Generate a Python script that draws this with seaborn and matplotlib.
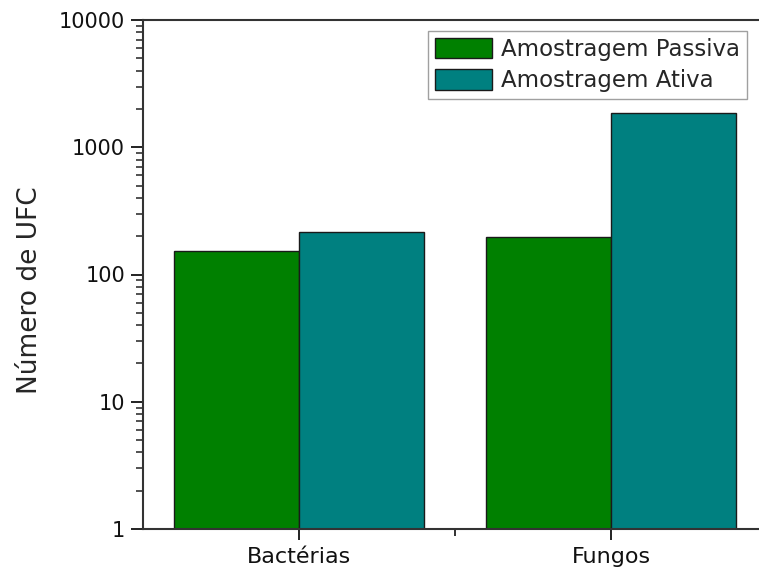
import pandas as pd
import seaborn as sns
import matplotlib.pyplot as plt
from matplotlib.ticker import FixedLocator, LogLocator, NullFormatter

# Data
categorias = ['Bactérias', 'Fungos']
passiva = [153, 198]
ativa = [217, 1850]
series = ['Amostragem Passiva', 'Amostragem Ativa']

df = pd.DataFrame({
    'categoria': categorias * 2,
    'ufc': passiva + ativa,
    'serie': [series[0]] * 2 + [series[1]] * 2,
})

sns.set_style('ticks')
plt.rcParams['font.family'] = ['DejaVu Sans']

fig = plt.figure(figsize=(7.59, 5.72), dpi=100)
# axes run past the right edge, as in the reference crop
ax = fig.add_axes([143 / 759, 1 - 529 / 572, 624 / 759, 509 / 572])

sns.barplot(data=df, x='categoria', y='ufc', hue='serie',
            palette=['#008000', '#008080'], width=0.8,
            edgecolor='#1a1a1a', linewidth=1.0, saturation=1, ax=ax)
ax.set_yscale('log')

ax.set_ylim(1, 10000)
ax.set_xlim(-0.5, 1.5)
ax.set_yticks([1, 10, 100, 1000, 10000])
ax.set_yticklabels(['1', '10', '100', '1000', '10000'])
ax.yaxis.set_minor_locator(LogLocator(base=10, subs=range(2, 10)))
ax.yaxis.set_minor_formatter(NullFormatter())
ax.xaxis.set_minor_locator(FixedLocator([0.5]))

ax.set_xlabel('')
ax.set_ylabel('Número de UFC', fontsize=19)
ax.yaxis.set_label_coords(-0.161, 0.47)
ax.tick_params(axis='y', which='major', length=9, width=1.3, labelsize=15, pad=4, colors='#111111')
ax.tick_params(axis='y', which='minor', length=5, width=1.1, color='#222222')
ax.tick_params(axis='x', which='major', length=8, width=1.3, labelsize=16, pad=5, colors='#111111')
ax.tick_params(axis='x', which='minor', length=5, width=1.3, color='#222222')
for s in ax.spines.values():
    s.set_linewidth(1.5)
    s.set_color('#333333')

leg = ax.legend(loc='upper left', bbox_to_anchor=(428 / 759, 1 - 31 / 572),
                bbox_transform=fig.transFigure,
                fontsize=16.5, frameon=True, fancybox=False, edgecolor='#888888',
                handlelength=2.5, handleheight=1.0, handletextpad=0.4,
                borderpad=0.3, labelspacing=0.35, borderaxespad=0)
leg.get_frame().set_linewidth(1.0)

fig.savefig('out.png', dpi=100)
